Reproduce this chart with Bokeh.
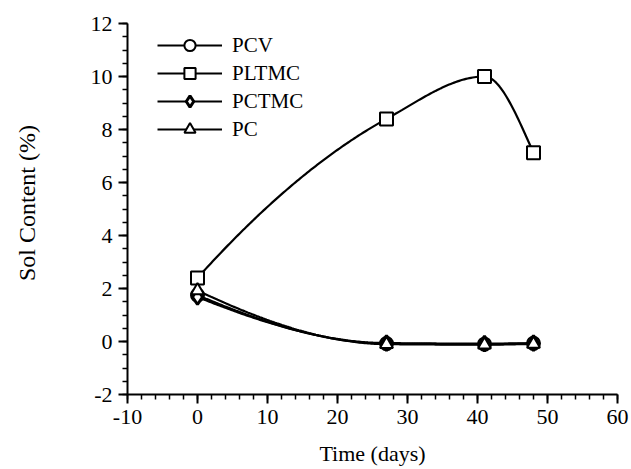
import numpy as np
from bokeh.plotting import figure
from bokeh.models import FixedTicker, Legend, LegendItem, Range1d
from bokeh.embed import file_html
from bokeh.resources import INLINE

# ---- data ----
days = [0, 27, 41, 48]
pcv = [1.75, -0.08, -0.10, -0.07]
pltmc = [2.40, 8.40, 10.00, 7.12]
pctmc = [1.68, -0.06, -0.08, -0.06]
pc = [1.92, -0.10, -0.12, -0.09]

x_ticks = [-10, 0, 10, 20, 30, 40, 50, 60]
y_ticks = [-2, 0, 2, 4, 6, 8, 10, 12]

FONT = "Liberation Serif"


def pchip(xs, ys, n=200):
    """Monotone piecewise cubic (Fritsch-Carlson) curve through the points."""
    xs = np.asarray(xs, float)
    ys = np.asarray(ys, float)
    h = np.diff(xs)
    d = np.diff(ys) / h
    k = len(xs)
    m = np.zeros(k)
    for i in range(1, k - 1):
        if d[i - 1] * d[i] <= 0:
            m[i] = 0.0
        else:
            w1 = 2 * h[i] + h[i - 1]
            w2 = h[i] + 2 * h[i - 1]
            m[i] = (w1 + w2) / (w1 / d[i - 1] + w2 / d[i])

    def end(h0, h1, d0, d1):
        mm = ((2 * h0 + h1) * d0 - h0 * d1) / (h0 + h1)
        if np.sign(mm) != np.sign(d0):
            mm = 0.0
        elif np.sign(d0) != np.sign(d1) and abs(mm) > abs(3 * d0):
            mm = 3 * d0
        return mm

    m[0] = end(h[0], h[1], d[0], d[1])
    m[-1] = end(h[-1], h[-2], d[-1], d[-2])
    xx = np.linspace(xs[0], xs[-1], n)
    yy = np.empty_like(xx)
    for j, x in enumerate(xx):
        i = min(np.searchsorted(xs, x, side="right") - 1, k - 2)
        t = (x - xs[i]) / h[i]
        h00 = 2 * t ** 3 - 3 * t ** 2 + 1
        h10 = t ** 3 - 2 * t ** 2 + t
        h01 = -2 * t ** 3 + 3 * t ** 2
        h11 = t ** 3 - t ** 2
        yy[j] = h00 * ys[i] + h10 * h[i] * m[i] + h01 * ys[i + 1] + h11 * h[i] * m[i + 1]
    return xx, yy


p = figure(width=631, height=469, output_backend="svg", toolbar_location=None,
           x_range=Range1d(-10, 60), y_range=Range1d(-2, 12),
           min_border_left=127, min_border_right=14, min_border_top=23,
           min_border_bottom=75)
p.outline_line_color = None
p.xgrid.visible = False
p.ygrid.visible = False
p.background_fill_color = "white"
p.border_fill_color = "white"

series = [
    ("PCV", pcv, "circle", 13, "white", 2),
    ("PLTMC", pltmc, "square", 13, "white", 2),
    ("PCTMC", pctmc, "diamond", 15, "white", 3),
    ("PC", pc, "triangle", 13, "white", 2),
]

items = []
for name, ys, marker, size, fill, lw in series:
    xx, yy = pchip(days, ys)
    ln = p.line(xx, yy, line_color="black", line_width=2.2)
    sc = p.scatter(days, ys, marker=marker, size=size, line_color="black",
                   line_width=lw, fill_color=fill)
    items.append(LegendItem(label=name, renderers=[ln, sc]))

legend = Legend(items=items, location=(30, 251), orientation="vertical")
legend.glyph_width = 65
legend.glyph_height = 28
legend.spacing = 0
legend.padding = 0
legend.margin = 0
legend.label_standoff = 10
legend.border_line_color = None
legend.background_fill_alpha = 0
legend.label_text_font = FONT
legend.label_text_font_size = "21px"
legend.label_text_color = "black"
p.add_layout(legend, "center")

for ax in (p.xaxis[0], p.yaxis[0]):
    ax.axis_line_width = 2
    ax.axis_line_color = "black"
    ax.major_tick_line_width = 2
    ax.minor_tick_line_width = 1.5
    ax.major_tick_line_color = "black"
    ax.minor_tick_line_color = "black"
    ax.major_tick_out = 9
    ax.major_tick_in = 0
    ax.minor_tick_out = 5
    ax.minor_tick_in = 0
    ax.major_label_text_font = FONT
    ax.major_label_text_font_size = "22px"
    ax.major_label_text_color = "black"
    ax.axis_label_text_font = FONT
    ax.axis_label_text_font_size = "22px"
    ax.axis_label_text_font_style = "normal"
    ax.axis_label_text_color = "black"
    ax.major_label_standoff = 6

p.xaxis[0].ticker = FixedTicker(ticks=x_ticks, minor_ticks=list(range(-10, 61, 2)))
p.yaxis[0].ticker = FixedTicker(ticks=y_ticks, minor_ticks=[v / 2 for v in range(-4, 25)])
p.xaxis[0].major_label_overrides = {t: str(t) for t in x_ticks}
p.yaxis[0].major_label_overrides = {t: str(t) for t in y_ticks}
p.xaxis[0].axis_label = "Time (days)"
p.yaxis[0].axis_label = "\u00a0\u00a0Sol Content (%)"
p.yaxis[0].axis_label_text_font_size = "24px"
p.xaxis[0].axis_label_standoff = 14
p.yaxis[0].axis_label_standoff = 48

open("out.html", "w").write(file_html(p, INLINE))
